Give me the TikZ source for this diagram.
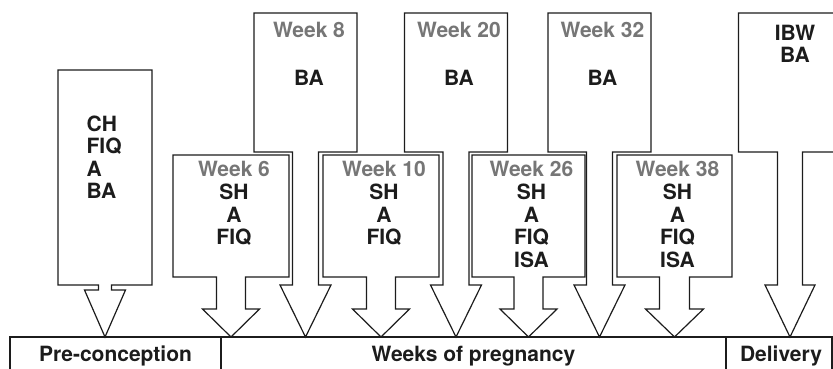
\documentclass[tikz,border=0pt]{standalone}
\usepackage{fontspec}
\setmainfont{TeX Gyre Heros}
\definecolor{weekgray}{RGB}{118,118,118}
\definecolor{ink}{RGB}{28,28,28}
% #1 centre x, #2 half box width, #3 box top, #4 box bottom, #5 shaft half width, #6 wing half width, #7 wing y
\newcommand{\blockarr}[7]{%
  \draw[arrowshape] ({#1-#2},#3) -- ({#1+#2},#3) -- ({#1+#2},#4) -- ({#1+#5},#4)
    -- ({#1+#5},#7) -- ({#1+#6},#7) -- (#1,337) -- ({#1-#6},#7) -- ({#1-#5},#7)
    -- ({#1-#5},#4) -- ({#1-#2},#4) -- cycle;}
\begin{document}
\begin{tikzpicture}[x=1pt,y=-1pt,line width=1.2pt,
  arrowshape/.style={draw=ink,fill=white,line join=miter},
  lbl/.style={font=\bfseries\fontsize{21}{23}\selectfont,text=ink,inner sep=0pt,anchor=base},
  wk/.style={lbl,text=weekgray},
  cell/.style={draw=ink}]
\useasboundingbox (0,0) rectangle (833,368);
\clip (0,0) rectangle (833,368);
% block arrows
\blockarr{105}{47}{70}{285}{6.5}{20.5}{290}
\blockarr{231}{58}{155}{277}{14.5}{28.5}{309}
\blockarr{305.5}{51.5}{13}{152}{13}{25.5}{285}
\blockarr{381}{58}{155}{277}{14.5}{28.5}{309}
\blockarr{456}{51.5}{13}{152}{13}{25.5}{285}
\blockarr{528.5}{56.5}{155}{277}{14.5}{28.5}{309}
\blockarr{599.5}{51.5}{13}{152}{13}{25.5}{285}
\blockarr{674.5}{57.5}{155}{277}{15}{29}{309}
\blockarr{790}{51.5}{13}{152}{12.5}{25}{285}
% bottom bar
\draw[cell] (10,337) rectangle (221,380);
\draw[cell] (221,337) rectangle (726,380);
\draw[cell] (726,337) rectangle (832,380);
\node[lbl] (pre) at (115.5,361) {Pre-conception};
\node[lbl] (weeks) at (473.5,361) {Weeks of pregnancy};
\node[lbl] (deliv) at (781,361) {Delivery};
% pre-conception
\node[lbl,anchor=base west] (p1) at (86,131) {CH};
\node[lbl,anchor=base west] (p2) at (86,153) {FIQ};
\node[lbl,anchor=base west] (p3) at (86,176) {A};
\node[lbl,anchor=base west] (p4) at (86,198) {BA};
% week 6
\node[wk] (w6) at (234,176) {Week 6};
\node[lbl] (w6a) at (234,199) {SH};
\node[lbl] (w6b) at (234,222) {A};
\node[lbl] (w6c) at (234,244) {FIQ};
% week 10
\node[wk] (w10) at (384,176) {Week 10};
\node[lbl] (w10a) at (384,199) {SH};
\node[lbl] (w10b) at (384,222) {A};
\node[lbl] (w10c) at (384,244) {FIQ};
% week 26
\node[wk] (w26) at (531.5,176) {Week 26};
\node[lbl] (w26a) at (531.5,199) {SH};
\node[lbl] (w26b) at (531.5,222) {A};
\node[lbl] (w26c) at (531.5,244) {FIQ};
\node[lbl] (w26d) at (531.5,267) {ISA};
% week 38
\node[wk] (w38) at (677.5,176) {Week 38};
\node[lbl] (w38a) at (677.5,199) {SH};
\node[lbl] (w38b) at (677.5,222) {A};
\node[lbl] (w38c) at (677.5,244) {FIQ};
\node[lbl] (w38d) at (677.5,267) {ISA};
% upper boxes
\node[wk] (w8) at (309,37) {Week 8};
\node[lbl] (w8a) at (309,85) {BA};
\node[wk] (w20) at (459,37) {Week 20};
\node[lbl] (w20a) at (459,85) {BA};
\node[wk] (w32) at (602.5,37) {Week 32};
\node[lbl] (w32a) at (602.5,85) {BA};
\node[lbl] (d1) at (795,40) {IBW};
\node[lbl] (d2) at (795,62) {BA};
\end{tikzpicture}
\end{document}
